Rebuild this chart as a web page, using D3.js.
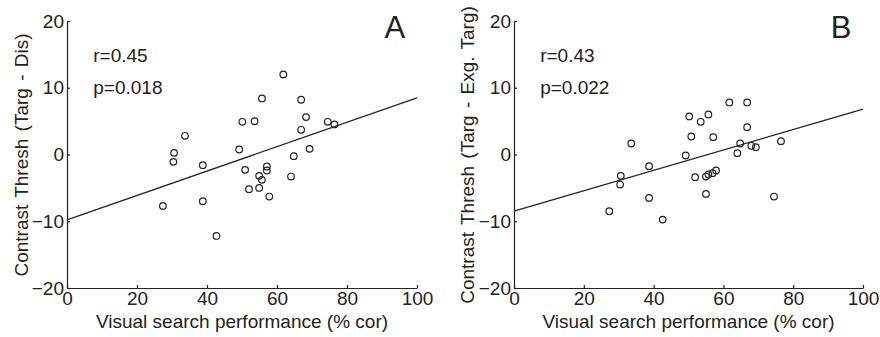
<!DOCTYPE html>
<html>
<head>
<meta charset="utf-8">
<script src="https://cdn.jsdelivr.net/npm/d3@7"></script>
<style>
  body { margin: 0; background: #fff; }
  svg { font-family: "Liberation Sans", Arial, sans-serif; }
  .axis text { font-size: 19px; fill: #222; }
  .axis path, .axis line { stroke: #222; stroke-width: 1.2; }
</style>
</head>
<body>
<svg id="svg" width="880" height="337"></svg>
<script>
// panel A: Contrast Thresh (Targ - Dis)
var searchA = [27.4, 30.6, 30.4, 33.7, 38.8, 38.8, 42.7, 49.2, 50.1, 53.6, 50.9, 52.0, 55.7, 54.9,
  55.7, 54.9, 57.1, 57.1, 57.8, 61.8, 64.0, 64.8, 66.9, 66.9, 68.3, 69.3, 74.5, 76.4];
var threshA = [-7.7, 0.25, -1.1, 2.8, -1.6, -7.0, -12.2, 0.75, 4.9, 5.0, -2.3, -5.2, 8.4, -3.2,
  -3.8, -5.0, -1.8, -2.4, -6.3, 12.0, -3.3, -0.25, 8.2, 3.7, 5.6, 0.85, 4.9, 4.5];
var fitA = [[0, -9.8], [100, 8.5]];

// panel B: Contrast Thresh (Targ - Exg. Targ)
var searchB = [27.3, 30.6, 30.4, 33.6, 38.7, 38.7, 42.6, 49.2, 50.2, 50.8, 51.9, 53.5, 55.7, 55.0,
  55.0, 55.7, 56.9, 57.9, 57.1, 61.7, 64.0, 64.8, 66.8, 66.8, 68.0, 69.3, 74.5, 76.5];
var threshB = [-8.5, -3.2, -4.5, 1.65, -1.75, -6.5, -9.75, -0.15, 5.7, 2.7, -3.4, 4.9, 6.0, -3.3,
  -5.9, -3.0, -2.8, -2.4, 2.6, 7.8, 0.2, 1.65, 7.8, 4.1, 1.3, 1.1, -6.3, 2.0];
var fitB = [[0, -8.5], [100, 6.8]];

var xTicks = [0, 20, 40, 60, 80, 100],
  yTicks = [-20, -10, 0, 10, 20];

var svg = d3.select("#svg"),
  ink = "#222";

function panel(left, right, xs, ys, fit, letter, stats, ylabel, ylabelX) {
  var x = d3.scaleLinear().domain([0, 100]).range([left, right]),
    y = d3.scaleLinear().domain([-20, 20]).range([288, 21]);
  var g = svg.append("g");

  g.append("g")
    .attr("class", "axis")
    .attr("transform", "translate(0,288)")
    .call(d3.axisBottom(x).tickValues(xTicks).tickSize(-3).tickSizeOuter(0).tickPadding(4));
  g.append("g")
    .attr("class", "axis")
    .attr("transform", "translate(" + left + ",0)")
    .call(d3.axisLeft(y).tickValues(yTicks).tickSize(-3).tickSizeOuter(0).tickPadding(3));

  g.append("path")
    .attr("fill", "none")
    .attr("stroke", ink)
    .attr("stroke-width", 1.3)
    .attr("d", d3.line().x(function (d) { return x(d[0]); }).y(function (d) { return y(d[1]); })(fit));

  g.selectAll("circle")
    .data(xs)
    .enter()
    .append("circle")
    .attr("cx", function (d) { return x(d); })
    .attr("cy", function (d, i) { return y(ys[i]); })
    .attr("r", 3.3)
    .attr("fill", "none")
    .attr("stroke", ink)
    .attr("stroke-width", 1.2);

  g.append("text")
    .attr("x", x(93.7))
    .attr("y", 38)
    .attr("text-anchor", "middle")
    .style("font-size", "31px")
    .style("fill", ink)
    .text(letter);

  g.selectAll(".stat")
    .data(stats)
    .enter()
    .append("text")
    .attr("x", x(7.5))
    .attr("y", function (d, i) { return 61.5 + i * 32; })
    .style("font-size", "19px")
    .style("fill", ink)
    .text(function (d) { return d; });

  g.append("text")
    .attr("x", x(50))
    .attr("y", 328)
    .attr("text-anchor", "middle")
    .style("font-size", "19px")
    .style("fill", ink)
    .text("Visual search performance (% cor)");

  g.append("text")
    .attr("transform", "translate(" + ylabelX + ",155) rotate(-90)")
    .attr("text-anchor", "middle")
    .style("font-size", "19px")
    .style("fill", ink)
    .style("word-spacing", "2px")
    .text(ylabel);
}

panel(67, 417, searchA, threshA, fitA, "A", ["r=0.45", "p=0.018"], "Contrast Thresh (Targ - Dis)", 28);
panel(514, 863, searchB, threshB, fitB, "B", ["r=0.43", "p=0.022"], "Contrast Thresh (Targ - Exg. Targ)", 474);
</script>
</body>
</html>
